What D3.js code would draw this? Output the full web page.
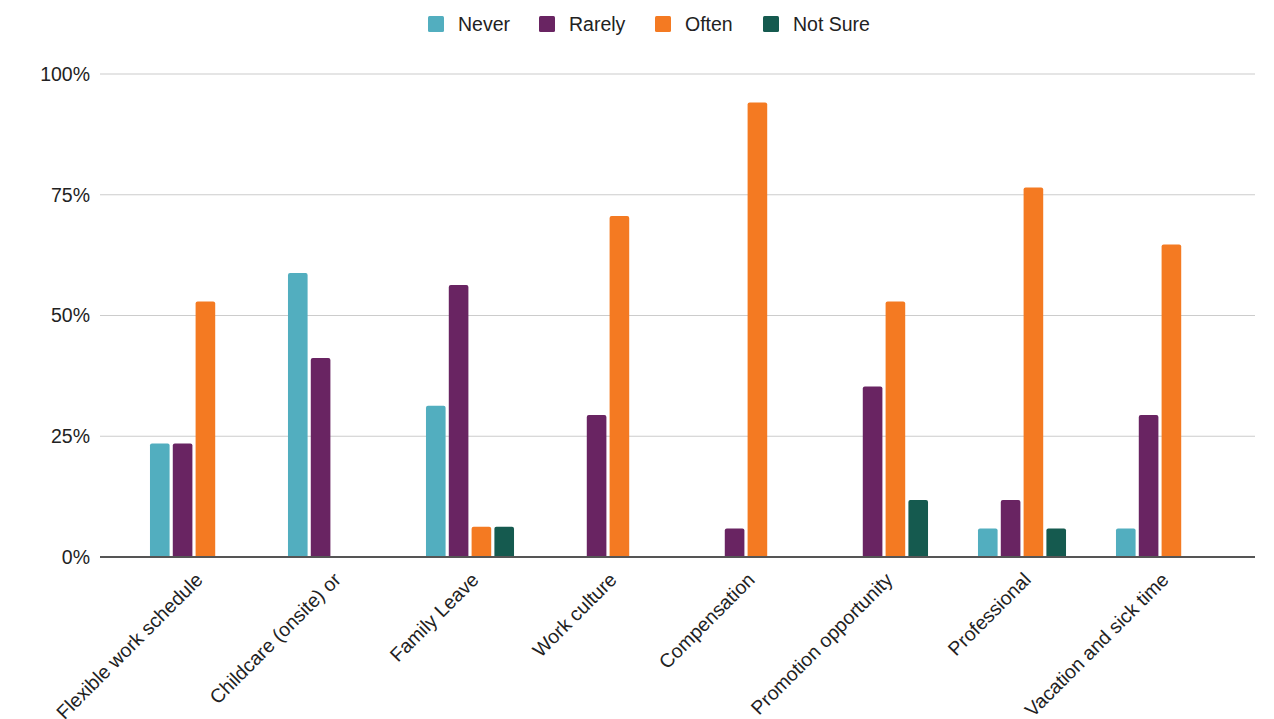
<!DOCTYPE html>
<html>
<head>
<meta charset="utf-8">
<script src="https://cdn.jsdelivr.net/npm/d3@7/dist/d3.min.js"></script>
<style>
  html, body { margin: 0; padding: 0; background: #fff; }
  svg { display: block; font-family: "Liberation Sans", Arial, sans-serif; }
</style>
</head>
<body>
<svg id="chart" width="1274" height="719"></svg>
<script>
// Benefit categories along the x axis
const categories = [
  "Flexible work schedule",
  "Childcare (onsite) or",
  "Family Leave",
  "Work culture",
  "Compensation",
  "Promotion opportunity",
  "Professional",
  "Vacation and sick time"
];

// Response series (percent of respondents)
const seriesNames = ["Never", "Rarely", "Often", "Not Sure"];
const never   = [23.5, 58.8, 31.3, 0,    0,    0,    5.9,  5.9];
const rarely  = [23.5, 41.2, 56.3, 29.4, 5.9,  35.3, 11.8, 29.4];
const often   = [52.9, 0,    6.25, 70.6, 94.1, 52.9, 76.5, 64.7];
const notSure = [0,    0,    6.25, 0,    0,    11.8, 5.9,  0];

const yTicks = [0, 25, 50, 75, 100];
const colors = ["#52aebf", "#692462", "#f47a22", "#155a4f"];

const seriesValues = [never, rarely, often, notSure];

const svg = d3.select("#chart");

const plotLeft = 100, plotRight = 1255, plotTop = 74, plotBottom = 557;
const fontSize = 19.5;

const y = d3.scaleLinear().domain([0, 100]).range([plotBottom, plotTop]);

const x0 = d3.scaleBand()
  .domain(categories)
  .range([125, 1229])
  .paddingInner(0.362)
  .paddingOuter(0.181);

const x1 = d3.scaleBand()
  .domain(seriesNames)
  .range([0, x0.bandwidth()])
  .paddingInner(0.14);

const color = d3.scaleOrdinal().domain(seriesNames).range(colors);

// Horizontal gridlines
svg.append("g")
  .selectAll("line")
  .data(yTicks.filter(d => d > 0))
  .join("line")
  .attr("x1", plotLeft)
  .attr("x2", plotRight)
  .attr("y1", d => y(d))
  .attr("y2", d => y(d))
  .attr("stroke", "#cccccc")
  .attr("stroke-width", 1.2);

// Y axis labels
const yAxis = d3.axisLeft(y)
  .tickValues(yTicks)
  .tickFormat(d => d + "%")
  .tickSize(0)
  .tickPadding(10);

const yg = svg.append("g")
  .attr("transform", `translate(${plotLeft},0)`)
  .call(yAxis);
yg.select(".domain").remove();
yg.selectAll("text")
  .attr("font-size", fontSize)
  .attr("fill", "#222")
  .attr("font-family", "Liberation Sans, Arial, sans-serif");

// Bars
const rows = categories.map((c, i) => ({
  category: c,
  values: seriesNames.map((s, j) => ({ series: s, value: seriesValues[j][i] }))
}));

const r = 2;
function barPath(x, w, yTop, yBase) {
  const h = yBase - yTop;
  const rr = Math.min(r, h / 2, w / 2);
  return `M${x},${yBase}V${yTop + rr}Q${x},${yTop} ${x + rr},${yTop}` +
         `H${x + w - rr}Q${x + w},${yTop} ${x + w},${yTop + rr}V${yBase}Z`;
}

svg.append("g")
  .selectAll("g")
  .data(rows)
  .join("g")
  .attr("transform", d => `translate(${x0(d.category)},0)`)
  .selectAll("path")
  .data(d => d.values.filter(v => v.value > 0))
  .join("path")
  .attr("d", v => barPath(x1(v.series), x1.bandwidth(), y(v.value), y(0)))
  .attr("fill", v => color(v.series));

// Baseline
svg.append("line")
  .attr("x1", plotLeft)
  .attr("x2", plotRight)
  .attr("y1", y(0))
  .attr("y2", y(0))
  .attr("stroke", "#555")
  .attr("stroke-width", 2);

// X axis category labels, rotated
const xAxis = d3.axisBottom(x0).tickSize(0).tickPadding(0);
const xg = svg.append("g")
  .attr("transform", `translate(0,${plotBottom})`)
  .call(xAxis);
xg.select(".domain").remove();
xg.selectAll("text")
  .attr("font-size", fontSize)
  .attr("fill", "#222")
  .attr("font-family", "Liberation Sans, Arial, sans-serif")
  .attr("text-anchor", "end")
  .attr("dy", null)
  .attr("y", 0)
  .attr("transform", "translate(10,24) rotate(-45)");

// Legend
const legendX = [428, 539, 655, 763];
const legend = svg.append("g");
const items = legend.selectAll("g")
  .data(seriesNames)
  .join("g")
  .attr("transform", (d, i) => `translate(${legendX[i]},16)`);
items.append("rect")
  .attr("width", 16)
  .attr("height", 16)
  .attr("rx", 1.5)
  .attr("fill", d => color(d));
items.append("text")
  .attr("x", 30)
  .attr("y", 8)
  .attr("dy", "0.35em")
  .attr("font-size", fontSize)
  .attr("fill", "#222")
  .text(d => d);
</script>
</body>
</html>
